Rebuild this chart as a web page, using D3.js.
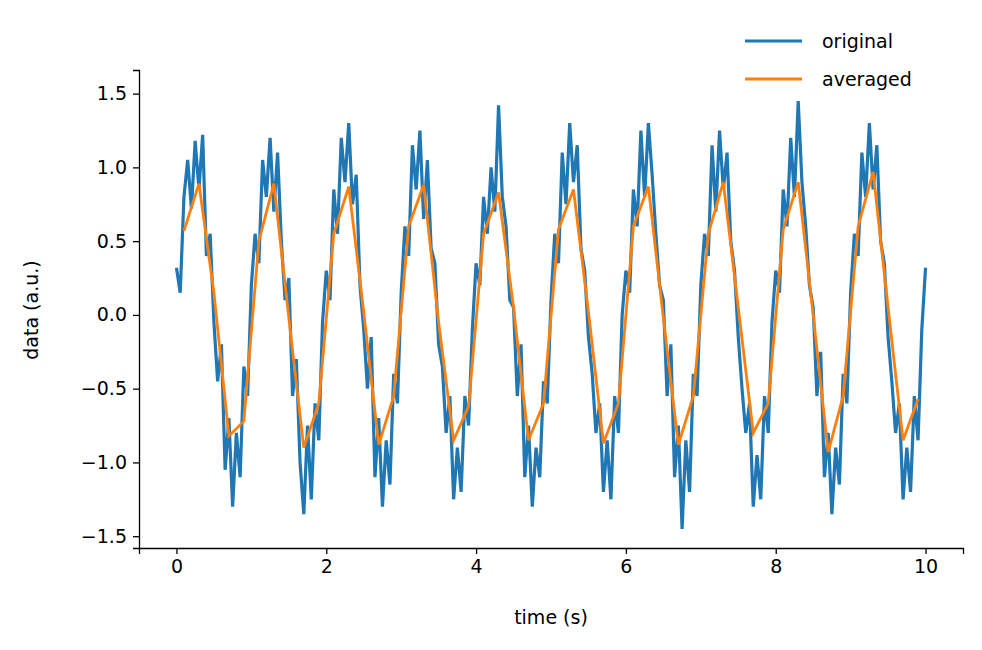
<!DOCTYPE html>
<html><head><meta charset="utf-8">
<script src="https://cdn.jsdelivr.net/npm/d3@7"></script>
<style>body{margin:0;background:#fff}text{font-family:"DejaVu Sans",sans-serif;fill:#000}</style>
</head><body><svg id="c" width="982" height="650"></svg>
<script>
// original signal, sampled every 0.05 s from 0 to 10 s
var origT = d3.range(0, 10.0001, 0.05);
var origY = [
 0.32,0.15,0.80,1.05,0.72,1.18,0.85,1.22,0.40,0.55,-0.05,-0.45,-0.20,-1.05,-0.70,-1.30,-0.80,-1.10,-0.35,-0.55,
 0.20,0.55,0.35,1.05,0.80,1.20,0.70,1.10,0.50,0.10,0.25,-0.55,-0.30,-1.00,-1.35,-0.75,-1.25,-0.60,-0.85,-0.05,
 0.30,0.10,0.85,0.55,1.20,0.90,1.30,0.75,0.95,0.20,-0.10,-0.50,-0.15,-1.10,-0.70,-1.30,-0.85,-1.15,-0.40,-0.60,
 0.15,0.60,0.40,1.15,0.85,1.25,0.65,1.05,0.45,0.35,-0.20,-0.35,-0.80,-0.55,-1.25,-0.90,-1.20,-0.55,-0.75,-0.10,
 0.35,0.20,0.80,0.55,1.00,0.70,1.42,0.80,0.60,0.10,0.05,-0.55,-0.20,-1.10,-0.75,-1.30,-0.90,-1.10,-0.45,-0.60,
 0.10,0.55,0.35,1.10,0.75,1.30,0.90,1.15,0.45,0.30,-0.15,-0.40,-0.80,-0.60,-1.20,-0.85,-1.25,-0.55,-0.80,0.00,
 0.30,0.15,0.85,0.60,1.25,0.80,1.30,0.95,0.55,0.20,0.10,-0.55,-0.20,-1.10,-0.75,-1.45,-0.85,-1.20,-0.40,-0.55,
 0.20,0.55,0.40,1.15,0.70,1.25,0.85,1.10,0.50,0.30,-0.15,-0.50,-0.80,-0.60,-1.30,-0.95,-1.25,-0.55,-0.80,-0.05,
 0.30,0.15,0.85,0.60,1.20,0.80,1.45,0.90,0.60,0.20,0.05,-0.55,-0.25,-1.10,-0.80,-1.35,-0.90,-1.15,-0.40,-0.60,
 0.15,0.55,0.40,1.10,0.80,1.30,0.85,1.15,0.50,0.35,-0.15,-0.45,-0.80,-0.60,-1.25,-0.90,-1.20,-0.55,-0.85,-0.10,
 0.32];
// averaged signal, every 0.2 s starting at 0.1 s
var avgT = d3.range(0.1, 10, 0.2);
var avgY = [
 0.57,0.89,0.15,-0.82,-0.72, 0.50,0.89,-0.02,-0.90,-0.60,
 0.55,0.87,0.02,-0.88,-0.55, 0.60,0.88,-0.05,-0.85,-0.62,
 0.55,0.83,0.05,-0.85,-0.60, 0.58,0.85,0.02,-0.87,-0.60,
 0.60,0.87,-0.02,-0.88,-0.55, 0.55,0.90,0.05,-0.80,-0.60,
 0.58,0.90,0.00,-0.93,-0.55, 0.60,0.97,0.05,-0.85,-0.57];
var xTicks = [0, 2, 4, 6, 8, 10];
var yTicks = [-1.5, -1.0, -0.5, 0.0, 0.5, 1.0, 1.5];

var svg = d3.select('#c');
var x = d3.scaleLinear().domain([-0.5, 10.5]).range([139, 963]);
var y = d3.scaleLinear().domain([-1.58, 1.66]).range([548, 70]);

svg.append('g').attr('transform', 'translate(0,548)')
  .call(d3.axisBottom(x).tickValues(xTicks).tickFormat(d3.format('d')).tickSizeOuter(0).tickSize(6).tickPadding(6))
  .call(g => g.selectAll('text').style('font-size', '19px'));
svg.append('g').attr('transform', 'translate(139,0)')
  .call(d3.axisLeft(y).tickValues(yTicks).tickFormat(d => d3.format('.1f')(d).replace('-', '\u2212')).tickSizeOuter(0).tickSize(6).tickPadding(6))
  .call(g => g.selectAll('text').style('font-size', '19px'));
svg.selectAll('.domain, .tick line').attr('stroke', '#000').attr('stroke-width', 1.3);

var line = d3.line().x(d => x(d[0])).y(d => y(d[1]));
svg.append('path').datum(origT.map((t, i) => [t, origY[i]]))
  .attr('d', line).attr('fill', 'none').attr('stroke', '#1f77b4').attr('stroke-width', 3.2);
svg.append('path').datum(avgT.map((t, i) => [t, avgY[i]]))
  .attr('d', line).attr('fill', 'none').attr('stroke', '#ff7f0e').attr('stroke-width', 2.8);

svg.append('text').attr('x', 551).attr('y', 624).attr('text-anchor', 'middle').style('font-size', '19px').text('time (s)');
svg.append('text').attr('transform', 'translate(38,310) rotate(-90)').attr('text-anchor', 'middle').style('font-size', '19px').text('data (a.u.)');

var leg = [['original', '#1f77b4'], ['averaged', '#ff7f0e']];
leg.forEach((l, i) => {
  svg.append('line').attr('x1', 745).attr('x2', 802).attr('y1', 41 + i * 38).attr('y2', 41 + i * 38)
    .attr('stroke', l[1]).attr('stroke-width', 3);
  svg.append('text').attr('x', 822).attr('y', 48 + i * 38).style('font-size', '19px').text(l[0]);
});
</script></body></html>
